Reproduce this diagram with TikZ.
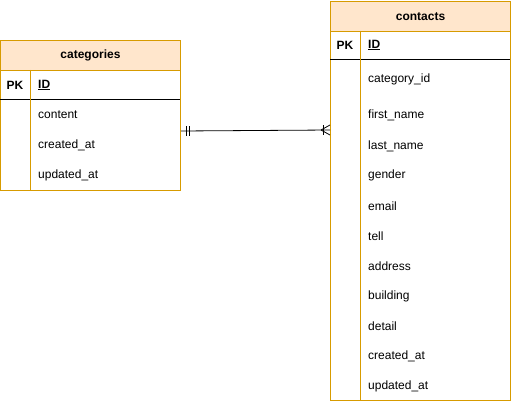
\documentclass[tikz,border=0pt]{standalone}
\usepackage{fontspec}
\setmainfont{Liberation Sans}
\begin{document}
\begin{tikzpicture}[x=1pt,y=-1pt,
  ent/.style={draw=ebord, line width=1pt, anchor=north west, inner sep=0pt},
  hdr/.style={draw=ebord, fill=hfill, line width=1pt, anchor=north west, inner sep=0pt, font=\fontsize{12}{14}\selectfont\bfseries},
  fld/.style={anchor=west, inner sep=0pt, font=\fontsize{12}{14}\selectfont},
  pk/.style={anchor=center, inner sep=0pt, font=\fontsize{12}{14}\selectfont\bfseries},
  sep/.style={draw=black, line width=1pt},
  div/.style={draw=ebord, line width=1pt},
  rel/.style={draw=black, line width=0.8pt}]
\definecolor{ebord}{HTML}{D79B00}
\definecolor{hfill}{HTML}{FFE6CC}
\useasboundingbox (0,0) rectangle (511,401);
% categories
\node[ent, minimum width=180pt, minimum height=150pt] (cat) at (0,40) {};
\node[hdr, minimum width=180pt, minimum height=30pt] (cathdr) at (0,40) {categories};
\coordinate (catpkl) at (0,100);
\coordinate (catpkr) at (180,100);
\draw[sep] (catpkl) -- (catpkr);
\coordinate (catdt) at (30,70);
\coordinate (catdb) at (30,190);
\draw[div] (catdt) -- (catdb);
\node[pk] (catpk) at (15,85) {PK};
\node[fld, font=\fontsize{12}{14}\selectfont\bfseries] (catid) at (38,85) {\underline{ID}};
\node[fld] (catf1) at (38,115) {content};
\node[fld] (catf2) at (38,145) {created\_at};
\node[fld] (catf3) at (38,175) {updated\_at};
% contacts
\node[ent, minimum width=180pt, minimum height=399pt] (con) at (330,1) {};
\node[hdr, minimum width=180pt, minimum height=30pt] (conhdr) at (330,1) {contacts};
\coordinate (conpkl) at (330,60);
\coordinate (conpkr) at (510,60);
\draw[sep] (conpkl) -- (conpkr);
\coordinate (condt) at (360,31);
\coordinate (condb) at (360,400);
\draw[div] (condt) -- (condb);
\node[pk] (conpk) at (345,45) {PK};
\node[fld, font=\fontsize{12}{14}\selectfont\bfseries] (conid) at (368,45) {\underline{ID}};
\node[fld] (c1) at (368,79) {category\_id};
\node[fld] (c2) at (368,115) {first\_name};
\node[fld] (c3) at (368,146) {last\_name};
\node[fld] (c4) at (368,175) {gender};
\node[fld] (c5) at (368,206) {email};
\node[fld] (c6) at (368,236) {tell};
\node[fld] (c7) at (368,266) {address};
\node[fld] (c8) at (368,296) {building};
\node[fld] (c9) at (368,326) {detail};
\node[fld] (c10) at (368,356) {created\_at};
\node[fld] (c11) at (368,386) {updated\_at};
% relation
\coordinate (ra) at (cat.east |- 0,131);
\coordinate (rb) at (con.west |- 0,130);
\draw[rel] (ra) -- (rb);
\draw[rel] ([xshift=5pt,yshift=-5pt]ra) -- ([xshift=5pt,yshift=5pt]ra);
\draw[rel] ([xshift=8pt,yshift=-5pt]ra) -- ([xshift=8pt,yshift=5pt]ra);
\draw[rel] ([xshift=-7pt,yshift=-5pt]rb) -- ([xshift=-7pt,yshift=5pt]rb);
\draw[rel] ([xshift=-9pt]rb) -- ([yshift=-5pt]rb);
\draw[rel] ([xshift=-9pt]rb) -- ([yshift=5pt]rb);
\end{tikzpicture}
\end{document}
